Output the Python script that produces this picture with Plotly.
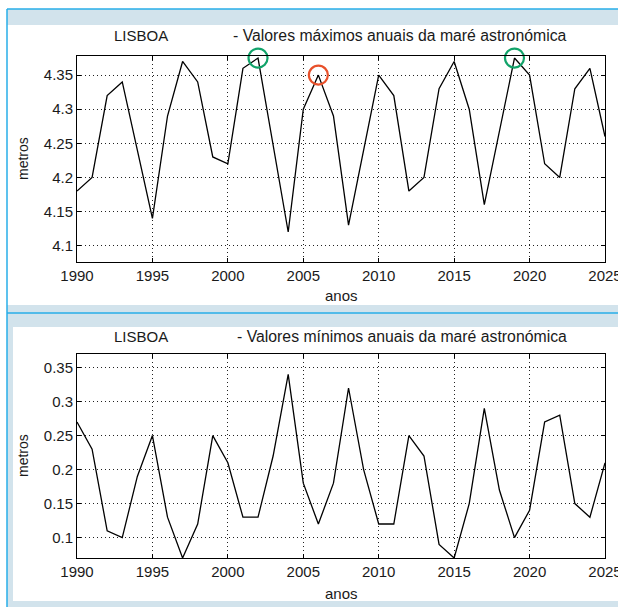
import plotly.graph_objects as go

years = list(range(1990, 2026))
max_vals = [4.18, 4.20, 4.32, 4.34, 4.24, 4.14, 4.29, 4.37, 4.34, 4.23,
            4.22, 4.36, 4.375, 4.25, 4.12, 4.30, 4.35, 4.29, 4.13, 4.24,
            4.35, 4.32, 4.18, 4.20, 4.33, 4.37, 4.30, 4.16, 4.27, 4.375,
            4.35, 4.22, 4.20, 4.33, 4.36, 4.26]
min_vals = [0.27, 0.23, 0.11, 0.10, 0.19, 0.25, 0.13, 0.07, 0.12, 0.25,
            0.21, 0.13, 0.13, 0.22, 0.34, 0.18, 0.12, 0.18, 0.32, 0.20,
            0.12, 0.12, 0.25, 0.22, 0.09, 0.07, 0.15, 0.29, 0.17, 0.10,
            0.14, 0.27, 0.28, 0.15, 0.13, 0.21]

green_years = [2002, 2019]
green_vals = [4.375, 4.375]
red_years = [2006]
red_vals = [4.35]

x_ticks = [1990, 1995, 2000, 2005, 2010, 2015, 2020, 2025]
top_ticks = [4.1, 4.15, 4.2, 4.25, 4.3, 4.35]
top_tick_text = ["4.1", "4.15", "4.2", "4.25", "4.3", "4.35"]
bot_ticks = [0.1, 0.15, 0.2, 0.25, 0.3, 0.35]
bot_tick_text = ["0.1", "0.15", "0.2", "0.25", "0.3", "0.35"]

title_city = "LISBOA"
title_top = "- Valores máximos anuais da maré astronómica"
title_bot = "- Valores mínimos anuais da maré astronómica"
xlabel = "anos"
ylabel = "metros"

W, H = 618, 607
FONT = "Liberation Sans, Arial, Helvetica, sans-serif"
TXT = "#1a1a1a"

def px(x):
    return x / W

def py(y):
    return 1 - y / H

fig = go.Figure()

fig.add_trace(go.Scatter(x=years, y=max_vals, mode="lines",
                         line=dict(color="black", width=1.3),
                         xaxis="x", yaxis="y", showlegend=False, hoverinfo="skip"))
fig.add_trace(go.Scatter(x=green_years, y=green_vals, mode="markers", cliponaxis=False,
                         marker=dict(symbol="circle-open", size=19,
                                     line=dict(color="#12a36a", width=2.2), color="#12a36a"),
                         xaxis="x", yaxis="y", showlegend=False, hoverinfo="skip"))
fig.add_trace(go.Scatter(x=red_years, y=red_vals, mode="markers", cliponaxis=False,
                         marker=dict(symbol="circle-open", size=19,
                                     line=dict(color="#e8502a", width=2.2), color="#e8502a"),
                         xaxis="x", yaxis="y", showlegend=False, hoverinfo="skip"))
fig.add_trace(go.Scatter(x=years, y=min_vals, mode="lines",
                         line=dict(color="black", width=1.3),
                         xaxis="x2", yaxis="y2", showlegend=False, hoverinfo="skip"))

xdom = [px(77), px(605)]
GRID = dict(showgrid=True, gridcolor="#222222", griddash="1px,3px", gridwidth=1.2)
common_x = dict(range=[1990, 2025], tickvals=x_ticks, **GRID,
                showline=True, linecolor="black", linewidth=1, mirror="ticks",
                ticks="inside", ticklen=4, tickcolor="black",
                tickfont=dict(family=FONT, size=15, color=TXT), zeroline=False,
                domain=xdom, automargin=False, ticklabeloverflow="allow")
common_y = dict(**GRID,
                showline=True, linecolor="black", linewidth=1, mirror="ticks",
                ticks="inside", ticklen=4, tickcolor="black",
                tickfont=dict(family=FONT, size=15, color=TXT), zeroline=False,
                automargin=False)

fig.update_layout(
    width=W, height=H, margin=dict(l=0, r=0, t=0, b=0, pad=0),
    paper_bgcolor="white", plot_bgcolor="white",
    xaxis=dict(**common_x, anchor="y"),
    yaxis=dict(**common_y, range=[4.076, 4.378], tickvals=top_ticks, ticktext=top_tick_text,
               domain=[py(262), py(56)], anchor="x"),
    xaxis2=dict(**common_x, anchor="y2"),
    yaxis2=dict(**common_y, range=[0.07, 0.37], tickvals=bot_ticks, ticktext=bot_tick_text,
                domain=[py(558), py(354)], anchor="x2"),
)

BAND = "#d2e3ec"
BLUE = "#27aee8"
shapes = [
    dict(type="rect", xref="paper", yref="paper", x0=px(7), x1=1, y0=py(25), y1=py(9),
         fillcolor=BAND, line=dict(width=0), layer="below"),
    dict(type="rect", xref="paper", yref="paper", x0=px(7), x1=1, y0=py(327), y1=py(305),
         fillcolor=BAND, line=dict(width=0), layer="below"),
    dict(type="rect", xref="paper", yref="paper", x0=px(7), x1=px(13), y0=0, y1=py(313),
         fillcolor=BAND, line=dict(width=0), layer="below"),
    dict(type="rect", xref="paper", yref="paper", x0=px(7), x1=1, y0=0, y1=py(601),
         fillcolor=BAND, line=dict(width=0), layer="below"),
    dict(type="line", xref="paper", yref="paper", x0=px(7), x1=1, y0=py(9), y1=py(9),
         line=dict(color=BLUE, width=1.5)),
    dict(type="line", xref="paper", yref="paper", x0=px(7), x1=px(7), y0=0, y1=py(9),
         line=dict(color=BLUE, width=1.5)),
    dict(type="line", xref="paper", yref="paper", x0=px(7), x1=1, y0=py(313), y1=py(313),
         line=dict(color=BLUE, width=1.5)),
]
fig.update_layout(shapes=shapes)

ann = []
def add_text(text, x, y, xanchor="center", angle=0, size=15):
    ann.append(dict(text=text, x=px(x), y=py(y), xref="paper", yref="paper",
                    xanchor=xanchor, yanchor="middle", showarrow=False, textangle=angle,
                    font=dict(family=FONT, size=size, color=TXT)))

add_text(title_city, 141, 36)
add_text(title_top, 231, 36, xanchor="left", size=15.8)
add_text(xlabel, 341, 295)
add_text(ylabel, 23, 159, angle=-90, size=14)
add_text(title_city, 141, 337)
add_text(title_bot, 235, 337, xanchor="left", size=15.8)
add_text(xlabel, 341, 593)
add_text(ylabel, 23, 456, angle=-90, size=14)
fig.update_layout(annotations=ann)

fig.write_html("out.html", config={"displayModeBar": False},
               post_script="document.body.style.margin='0';document.body.style.padding='0';document.body.style.overflow='hidden';")
